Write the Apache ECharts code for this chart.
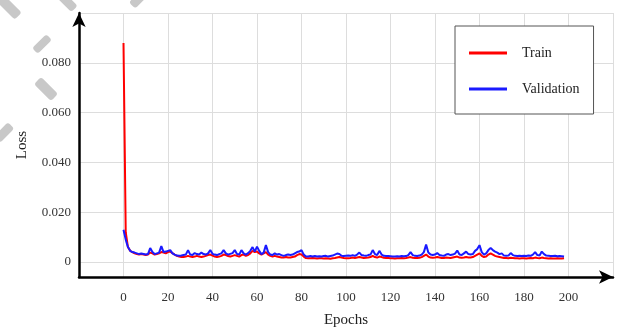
<!DOCTYPE html>
<html>
<head>
<meta charset="utf-8">
<script src="https://cdn.jsdelivr.net/npm/echarts@6/dist/echarts.min.js"></script>
<style>
  html, body { margin: 0; padding: 0; background: #fff; }
  #chart { width: 619px; height: 331px; }
</style>
</head>
<body>
<div id="chart"></div>
<script>
// epochs 0..198
const trainLoss = [
  0.088, 0.012, 0.006, 0.0045, 0.004, 0.0035, 0.0032, 0.003, 0.0032, 0.003,
  0.0028, 0.003, 0.0038, 0.0035, 0.003, 0.0032, 0.0035, 0.004, 0.0038, 0.0035,
  0.004, 0.0042, 0.0036, 0.003, 0.0025, 0.0022, 0.002, 0.002, 0.0022, 0.0025,
  0.0022, 0.002, 0.0022, 0.0025, 0.0022, 0.002, 0.0022, 0.0025, 0.0028, 0.003,
  0.0026, 0.0022, 0.002, 0.0022, 0.0025, 0.003, 0.0028, 0.0024, 0.0022, 0.0025,
  0.0028, 0.0025, 0.0022, 0.0028, 0.003, 0.0025, 0.0028, 0.0035, 0.0045, 0.004,
  0.0042, 0.0035, 0.003, 0.0035, 0.004, 0.003, 0.0025, 0.0022, 0.0025, 0.0022,
  0.002, 0.0018, 0.0018, 0.002, 0.0018, 0.0018, 0.002, 0.0022, 0.0028, 0.0032,
  0.003, 0.0022, 0.0016, 0.0015, 0.0015, 0.0016, 0.0015, 0.0014, 0.0015, 0.0015,
  0.0014, 0.0015, 0.0014, 0.0013, 0.0015, 0.0016, 0.0018, 0.002, 0.0018, 0.0016,
  0.0015, 0.0015, 0.0016, 0.0018, 0.0016, 0.0018, 0.002, 0.0018, 0.0016, 0.0017,
  0.0018, 0.002, 0.0025, 0.002, 0.0018, 0.0022, 0.002, 0.0017, 0.0016, 0.0016,
  0.0015, 0.0015, 0.0014, 0.0015, 0.0015, 0.0016, 0.0015, 0.0016, 0.0018, 0.002,
  0.0017, 0.0016, 0.0016, 0.0017, 0.002, 0.0025, 0.003, 0.0022, 0.0018, 0.0017,
  0.0018, 0.002, 0.0018, 0.0016, 0.0016, 0.0018, 0.0017, 0.0016, 0.0018, 0.002,
  0.0022, 0.0018, 0.0017, 0.0018, 0.002, 0.0018, 0.0018, 0.002, 0.0025, 0.003,
  0.0035, 0.0025, 0.002, 0.0022, 0.003, 0.0035, 0.003, 0.0025, 0.0022, 0.002,
  0.0018, 0.0016, 0.0016, 0.0015, 0.0017, 0.0016, 0.0015, 0.0015, 0.0014, 0.0015,
  0.0015, 0.0014, 0.0015, 0.0016, 0.0015, 0.0018, 0.0016, 0.0015, 0.0018, 0.0016,
  0.0015, 0.0014, 0.0015, 0.0014, 0.0014, 0.0015, 0.0014, 0.0014, 0.0015
];
const valLoss = [
  0.013, 0.009, 0.006, 0.0045, 0.004, 0.0038, 0.0035, 0.0032, 0.0034, 0.0032,
  0.003, 0.0032, 0.0056, 0.004, 0.0032, 0.0035, 0.0038, 0.0064, 0.004, 0.0042,
  0.0045, 0.0048, 0.0035, 0.003, 0.0026, 0.0025, 0.0026, 0.0028, 0.003, 0.0048,
  0.003, 0.0028, 0.0036, 0.0032, 0.003, 0.0038, 0.0032, 0.003, 0.0035, 0.0048,
  0.0033, 0.003, 0.0028, 0.0032, 0.0035, 0.0048, 0.0035, 0.003, 0.0033, 0.0036,
  0.0048, 0.0032, 0.003, 0.0048, 0.0035, 0.003, 0.0036, 0.0045, 0.006, 0.0042,
  0.0062, 0.0045, 0.0032, 0.0038, 0.0068, 0.004, 0.003, 0.0028, 0.0035, 0.003,
  0.0032, 0.0028, 0.0025, 0.0028, 0.003, 0.0028, 0.003, 0.0035, 0.004, 0.0042,
  0.0048, 0.003, 0.0022, 0.0022, 0.0024, 0.0022, 0.0024, 0.0022, 0.0023, 0.0022,
  0.0024, 0.0025, 0.0022, 0.0024, 0.0026, 0.003, 0.0034, 0.0032, 0.0025, 0.0024,
  0.0025, 0.0026, 0.0025, 0.0028, 0.0025, 0.003, 0.0038, 0.0028, 0.0026, 0.0025,
  0.0028, 0.003, 0.0048, 0.0032, 0.0028, 0.0045, 0.003, 0.0025, 0.0024, 0.0024,
  0.0023, 0.0022, 0.0022, 0.0023, 0.0022, 0.0024, 0.0023, 0.0024, 0.0028, 0.004,
  0.0028, 0.0025, 0.0024, 0.0026, 0.003, 0.004, 0.007, 0.0038, 0.003, 0.0028,
  0.003, 0.0036, 0.0028, 0.0026, 0.0025, 0.003, 0.0032, 0.0028, 0.003, 0.0034,
  0.0046, 0.003, 0.0028, 0.0035, 0.0042, 0.0032, 0.003, 0.0032, 0.0045, 0.0052,
  0.0068, 0.004, 0.003, 0.0035, 0.0048, 0.0056, 0.0048, 0.0042, 0.0038, 0.0032,
  0.0035, 0.0026, 0.0025, 0.0026, 0.0036, 0.0028, 0.0025, 0.0024, 0.0025, 0.0024,
  0.0025, 0.0024, 0.0026, 0.0025, 0.003, 0.004, 0.0028, 0.0026, 0.0042, 0.0032,
  0.0026, 0.0025, 0.0024, 0.0024, 0.0025, 0.0023, 0.0024, 0.0023, 0.0022
];
const yTickValues = [0, 0.02, 0.04, 0.06, 0.08, 0.1];
const yLabelValues = [0, 0.02, 0.04, 0.06, 0.08];

const serif = '"Liberation Serif", "DejaVu Serif", serif';
const toPairs = arr => arr.map((v, i) => [i, v]);

// grey scan marks in the top-left corner of the picture
const mark = (x, y, w, h, rot) => ({
  type: 'rect',
  x: x, y: y,
  rotation: rot,
  originX: w / 2, originY: h / 2,
  shape: { width: w, height: h, r: 3 },
  style: { fill: '#c8c8c8' },
  z: -1
});

const chart = echarts.init(document.getElementById('chart'));
chart.setOption({
  animation: false,
  backgroundColor: '#fff',
  textStyle: { fontFamily: serif },
  graphic: [
    mark(-4, 2, 26, 10, -Math.PI / 4),
    mark(54, -4, 24, 9, -Math.PI / 4),
    mark(130, -4, 14, 9, Math.PI / 4),
    mark(32, 40, 20, 8, Math.PI / 4),
    mark(34, 84, 24, 10, -Math.PI / 4),
    mark(-6, 128, 20, 9, Math.PI / 4)
  ],
  grid: { left: 79, right: 6, top: 13, bottom: 54, containLabel: false, outerBoundsMode: 'none' },
  legend: {
    orient: 'vertical',
    left: 455,
    top: 26,
    padding: [20, 14, 18, 14],
    itemGap: 22,
    itemWidth: 38,
    itemHeight: 3,
    icon: 'rect',
    backgroundColor: '#fff',
    borderColor: '#555',
    borderWidth: 1,
    textStyle: { fontFamily: serif, fontSize: 14, color: '#222', padding: [0, 0, 0, 10] },
    data: ['Train', 'Validation']
  },
  xAxis: {
    type: 'value',
    min: -20,
    max: 220,
    interval: 20,
    name: 'Epochs',
    nameLocation: 'middle',
    nameGap: 36,
    nameTextStyle: { fontFamily: serif, fontSize: 15, color: '#222' },
    axisLine: { show: true, onZero: false, symbol: ['none', 'arrow'], symbolSize: [10, 14], lineStyle: { color: '#000', width: 2.5 } },
    axisTick: { show: false },
    axisLabel: {
      margin: 14,
      fontSize: 13,
      color: '#333',
      fontFamily: serif,
      formatter: v => (v < 0 || v > 200) ? '' : String(v)
    },
    splitLine: { show: true, lineStyle: { color: '#ddd', width: 1 } }
  },
  yAxis: {
    type: 'value',
    min: -0.006,
    max: 0.1,
    name: 'Loss',
    nameLocation: 'middle',
    nameGap: 49,
    nameTextStyle: { fontFamily: serif, fontSize: 15, color: '#222' },
    axisLine: { show: true, onZero: false, symbol: ['none', 'arrow'], symbolSize: [10, 14], lineStyle: { color: '#000', width: 2.5 } },
    axisTick: { show: false, customValues: yTickValues },
    axisLabel: {
      customValues: yLabelValues,
      margin: 8,
      fontSize: 13,
      color: '#333',
      fontFamily: serif,
      formatter: v => v === 0 ? '0' : v.toFixed(3)
    },
    splitLine: { show: true, lineStyle: { color: '#ddd', width: 1 } }
  },
  series: [
    {
      name: 'Train',
      type: 'line',
      data: toPairs(trainLoss),
      showSymbol: false,
      color: '#ff0000',
      lineStyle: { width: 2, color: '#ff0000' }
    },
    {
      name: 'Validation',
      type: 'line',
      data: toPairs(valLoss),
      showSymbol: false,
      color: '#1a1aff',
      lineStyle: { width: 2, color: '#1a1aff' }
    }
  ]
});
</script>
</body>
</html>
